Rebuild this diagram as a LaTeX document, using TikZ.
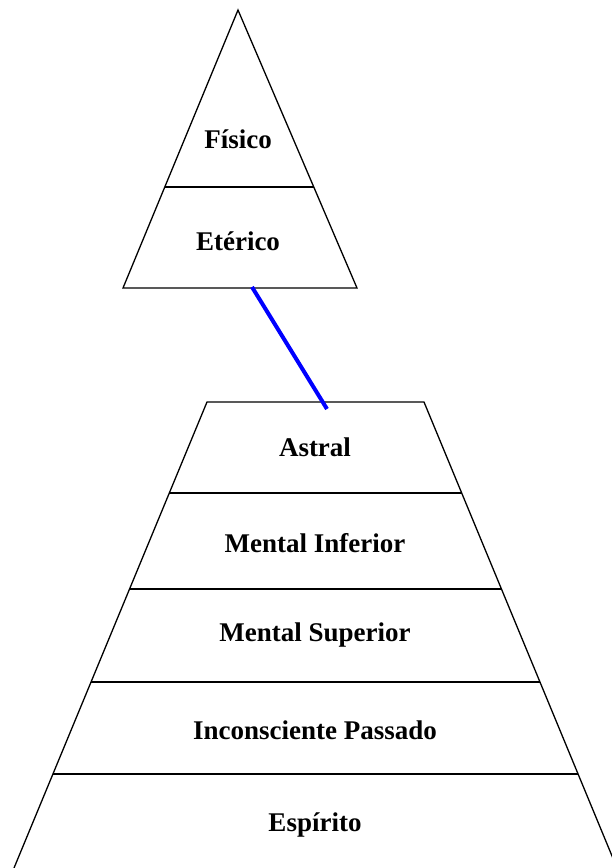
\documentclass[tikz,border=0pt]{standalone}
\usepackage{fontspec}
\setmainfont{Liberation Serif}
\usetikzlibrary{positioning}
\definecolor{linkblue}{RGB}{0, 0, 255}

\begin{document}
\begin{tikzpicture}[x=1pt, y=-1pt,
    layer/.style={font=\bfseries\fontsize{27}{27}\selectfont, inner sep=0pt},
    edge/.style={line width=1.3pt, black}]
    \useasboundingbox (0,0) rectangle (612,868);
    \clip (0,0) rectangle (612,868);
    % upper pyramid
    \draw[edge, line join=miter] (123,288) -- (238,10) -- (357,288) -- cycle;
    \draw[edge] (164.8,187) -- (313.8,187);
    \node[layer] (fisico) at (238,139) {Físico};
    \node[layer] (eterico) at (238,241) {Etérico};
    % lower pyramid
    \draw[edge] (14,868) -- (207,402) -- (424,402) -- (617,868);
    \foreach \y in {493,589,682,774}
        \draw[edge] ({207-0.414*(\y-402)},\y) -- ({424+0.414*(\y-402)},\y);
    \node[layer] (astral) at (315,447) {Astral};
    \node[layer] (inferior) at (315,543) {Mental Inferior};
    \node[layer] (superior) at (315,635) {Mental Superior};
    \node[layer] (passado) at (315,730) {Inconsciente Passado};
    \node[layer] (espirito) at (315,825) {Espírito};
    % link
    \coordinate (etBase) at (252,287);
    \coordinate (asTop) at (327,409);
    \draw[linkblue, line width=4pt] (etBase) -- (asTop);
\end{tikzpicture}
\end{document}
